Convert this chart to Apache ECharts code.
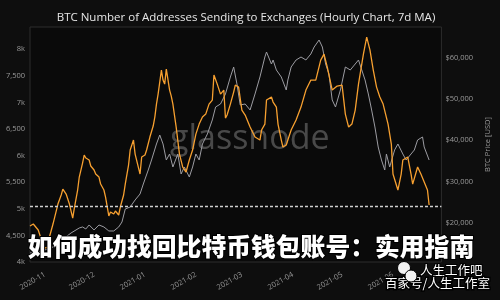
<!DOCTYPE html>
<html>
<head>
<meta charset="utf-8">
<script src="https://cdn.jsdelivr.net/npm/echarts@6/dist/echarts.min.js"></script>
<style>
html,body{margin:0;padding:0;background:#0e0e0e;}
#c{width:500px;height:300px;}
</style>
</head>
<body>
<div id="c"></div>
<script>
// ---- data ----
const titleText = 'BTC Number of Addresses Sending to Exchanges (Hourly Chart, 7d MA)';
const overlayTitle = '如何成功找回比特币钱包账号：实用指南';
const leftTicks = [4000, 4500, 5000, 5500, 6000, 6500, 7000, 7500, 8000];
const leftTickLabels = ['4k', '4,500', '5k', '5,500', '6k', '6,500', '7k', '7,500', '8k'];
const rightTicks = [20000, 30000, 40000, 50000, 60000];
const rightTickLabels = ['$20,000', '$30,000', '$40,000', '$50,000', '$60,000'];
const thresholdValue = 5050;

const addrDates = [
 '2020-10-23','2020-10-25','2020-10-28','2020-10-30','2020-11-01','2020-11-03','2020-11-04','2020-11-06',
 '2020-11-09','2020-11-11','2020-11-12','2020-11-14','2020-11-16','2020-11-18','2020-11-19','2020-11-21',
 '2020-11-22','2020-11-24','2020-11-25','2020-11-26','2020-11-28','2020-11-29','2020-12-01','2020-12-02',
 '2020-12-04','2020-12-05','2020-12-07','2020-12-08','2020-12-10','2020-12-11','2020-12-13','2020-12-14',
 '2020-12-16','2020-12-17','2020-12-19','2020-12-20','2020-12-22','2020-12-23','2020-12-25','2020-12-26',
 '2020-12-29','2020-12-30','2021-01-01','2021-01-02','2021-01-04','2021-01-06','2021-01-07','2021-01-08',
 '2021-01-09','2021-01-11','2021-01-12','2021-01-13','2021-01-14','2021-01-16','2021-01-17','2021-01-18',
 '2021-01-20','2021-01-22','2021-01-24','2021-01-26','2021-01-28','2021-01-30','2021-02-01','2021-02-03',
 '2021-02-05','2021-02-07','2021-02-09','2021-02-11','2021-02-12','2021-02-14','2021-02-16','2021-02-18',
 '2021-02-19','2021-02-20','2021-02-22','2021-02-24','2021-02-25','2021-02-27','2021-03-01','2021-03-03',
 '2021-03-06','2021-03-09','2021-03-10','2021-03-12','2021-03-13','2021-03-15','2021-03-16','2021-03-19',
 '2021-03-20','2021-03-22','2021-03-23','2021-03-25','2021-03-26','2021-03-28','2021-03-29','2021-03-31',
 '2021-04-01','2021-04-03','2021-04-06','2021-04-09','2021-04-12','2021-04-15','2021-04-18','2021-04-20',
 '2021-04-22','2021-04-25','2021-04-28','2021-05-01','2021-05-03','2021-05-05','2021-05-07','2021-05-09',
 '2021-05-11','2021-05-14','2021-05-16','2021-05-18','2021-05-20','2021-05-22','2021-05-24','2021-05-26',
 '2021-05-29','2021-05-31','2021-06-01','2021-06-04','2021-06-06','2021-06-07','2021-06-10','2021-06-12',
 '2021-06-13','2021-06-16','2021-06-18','2021-06-19','2021-06-22','2021-06-23'
];
const addrValues = [
 4677,4714,4602,4414,4263,4282,4489,4714,
 5090,5260,5372,5278,5090,4827,5015,5354,
 5598,5861,6012,5955,5918,5805,5730,5654,
 5598,5466,5354,5222,4865,4940,4902,4959,
 4884,5034,5260,5466,5824,6106,6294,6030,
 5654,5974,6012,6106,6350,6557,6726,6970,
 7158,7610,7422,7346,7628,7234,7121,6970,
 6538,6030,5786,5692,5918,6106,6406,6594,
 6726,6782,6970,7046,7516,7346,7158,7234,
 6707,6764,6970,7196,7328,7290,6858,6764,
 6538,6350,6350,6294,6482,6594,7046,7102,
 7008,6914,6594,6294,6162,6200,6294,6482,
 6519,6670,6914,7234,7422,7422,7798,7910,
 7666,7234,7309,7328,6782,6538,6594,6858,
 7346,7910,8230,7986,7610,7290,7102,6970,
 6594,6218,5654,5354,5654,5918,5974,5654,
 5466,5786,5654,5654,5354,5072
];

const priceDates = [
 '2020-10-23','2020-10-28','2020-11-01','2020-11-06','2020-11-10','2020-11-13','2020-11-17','2020-11-20',
 '2020-11-22','2020-11-24','2020-11-26','2020-11-28','2020-12-01','2020-12-04','2020-12-07','2020-12-10',
 '2020-12-13','2020-12-16','2020-12-18','2020-12-20','2020-12-23','2020-12-24','2020-12-26','2020-12-29',
 '2020-12-31','2021-01-03','2021-01-05','2021-01-08','2021-01-10','2021-01-12','2021-01-14','2021-01-16',
 '2021-01-18','2021-01-21','2021-01-23','2021-01-25','2021-01-28','2021-01-30','2021-02-01','2021-02-03',
 '2021-02-05','2021-02-08','2021-02-11','2021-02-13','2021-02-16','2021-02-19','2021-02-22','2021-02-24',
 '2021-02-26','2021-02-28','2021-03-03','2021-03-06','2021-03-09','2021-03-12','2021-03-15','2021-03-16',
 '2021-03-19','2021-03-20','2021-03-22','2021-03-25','2021-03-28','2021-03-29','2021-03-31','2021-04-03',
 '2021-04-06','2021-04-09','2021-04-12','2021-04-14','2021-04-17','2021-04-19','2021-04-21','2021-04-23',
 '2021-04-25','2021-04-27','2021-04-30','2021-05-03','2021-05-06','2021-05-09','2021-05-11','2021-05-13',
 '2021-05-15','2021-05-17','2021-05-19','2021-05-21','2021-05-23','2021-05-25','2021-05-27','2021-05-28',
 '2021-05-30','2021-06-02','2021-06-04','2021-06-07','2021-06-09','2021-06-12','2021-06-14','2021-06-16',
 '2021-06-19','2021-06-20','2021-06-23'
];
const priceValues = [
 12664,12906,13391,14117,15085,16296,17506,18233,
 18717,18959,18475,19443,18233,19443,18959,17991,
 17991,18959,20169,23317,23801,23801,25496,26948,
 29369,32759,35180,39053,41232,39053,35180,36632,
 33485,36632,31790,33485,31064,33485,36632,35180,
 39053,41474,44864,48011,48737,51158,55274,57695,
 53579,48495,48737,47285,51158,55274,60116,61326,
 58421,59390,56969,55274,52127,54548,57695,59390,
 60116,59390,60842,62537,64232,62537,58421,56000,
 49706,48011,52127,57695,56969,58421,59390,56969,
 54548,51158,47285,43169,38327,35180,32759,36632,
 33485,37601,39053,36632,35180,36632,37601,40022,
 40748,38327,35180
];

// ---- chart ----
const chart = echarts.init(document.getElementById('c'), null, {renderer: 'canvas'});
const font = '"Open Sans", "Noto Sans", sans-serif';
const cjk = '"Noto Sans CJK SC", sans-serif';

const leftMap = {}; leftTicks.forEach((v, i) => leftMap[v] = leftTickLabels[i]);
const rightMap = {}; rightTicks.forEach((v, i) => rightMap[v] = rightTickLabels[i]);

chart.setOption({
  backgroundColor: '#0e0e0e',
  animation: false,
  title: {
    text: titleText,
    left: 241, top: 7, textAlign: 'center',
    textStyle: {color: '#e6e6e6', fontSize: 11.5, fontWeight: 'normal', fontFamily: font}
  },
  grid: {left: 30, right: 48, top: 27, bottom: 38, show: true, borderColor: '#2c2c2c', borderWidth: 1, backgroundColor: '#0a0a0a'},
  xAxis: {
    type: 'time',
    min: '2020-10-23',
    max: '2021-06-30 12:00',
    splitNumber: 8,
    maxInterval: 31 * 86400000,
    axisLine: {show: false},
    axisTick: {show: false},
    splitLine: {show: false},
    axisLabel: {
      formatter: '{yyyy}-{MM}', rotate: 30, margin: 12,
      color: '#9a9a9a', fontSize: 7.5, fontFamily: font, hideOverlap: false
    }
  },
  yAxis: [{
    type: 'value', position: 'left',
    min: 4000, max: 8420,
    axisLine: {show: false}, axisTick: {show: false}, splitLine: {show: false},
    axisLabel: {
      customValues: leftTicks, margin: 5,
      formatter: v => leftMap[v] || '',
      color: '#9a9a9a', fontSize: 7.5, fontFamily: font
    }
  }, {
    type: 'value', position: 'right',
    min: 10480, max: 67380,
    name: 'BTC Price [USD]', nameLocation: 'middle', nameGap: 33, nameRotate: 90,
    nameTextStyle: {color: '#9a9a9a', fontSize: 7.5, fontFamily: font},
    axisLine: {show: false}, axisTick: {show: false}, splitLine: {show: false},
    axisLabel: {
      customValues: rightTicks, margin: 4,
      formatter: v => rightMap[v] || '',
      color: '#9a9a9a', fontSize: 7.5, fontFamily: font
    }
  }],
  series: [{
    name: 'BTC Price', type: 'line', yAxisIndex: 1, z: 2,
    data: priceDates.map((d, i) => [d, priceValues[i]]),
    showSymbol: false,
    lineStyle: {color: '#9c9ca2', width: 1},
    silent: true
  }, {
    name: 'Addresses', type: 'line', yAxisIndex: 0, z: 3,
    data: addrDates.map((d, i) => [d, addrValues[i]]),
    showSymbol: false,
    lineStyle: {color: '#f7a030', width: 1.3},
    silent: true,
    markLine: {
      silent: true, symbol: 'none', label: {show: false},
      lineStyle: {color: '#cfcfcf', type: [3, 2], width: 1.3},
      data: [{yAxis: thresholdValue}]
    }
  }],
  graphic: [
    {type: 'text', left: 170, top: 122, z: 1, silent: true,
     style: {text: 'glassnode', fill: 'rgba(125,125,125,0.55)', font: '500 34px ' + font}},
    {type: 'text', x: 251, y: 247, z: 100, silent: true,
     style: {text: overlayTitle, fill: '#ffffff', font: '900 24.8px ' + cjk,
             align: 'center', verticalAlign: 'middle', stroke: '#000', lineWidth: 2}},
    {type: 'circle', z: 100, shape: {cx: 404, cy: 268, r: 6.5}, style: {fill: '#f2f2f2', stroke: '#000', lineWidth: 1}},
    {type: 'circle', z: 101, shape: {cx: 411, cy: 276, r: 6}, style: {fill: '#f2f2f2', stroke: '#000', lineWidth: 1}},
    {type: 'text', x: 420, y: 270, z: 100, silent: true,
     style: {text: '人生工作吧', fill: '#ffffff', font: '12.5px ' + cjk, verticalAlign: 'middle', stroke: '#000', lineWidth: 2}},
    {type: 'text', x: 385, y: 283, z: 100, silent: true,
     style: {text: '百家号/人生工作室', fill: '#ffffff', font: '12.5px ' + cjk, verticalAlign: 'middle', stroke: '#000', lineWidth: 3}}
  ]
});
</script>
</body>
</html>
